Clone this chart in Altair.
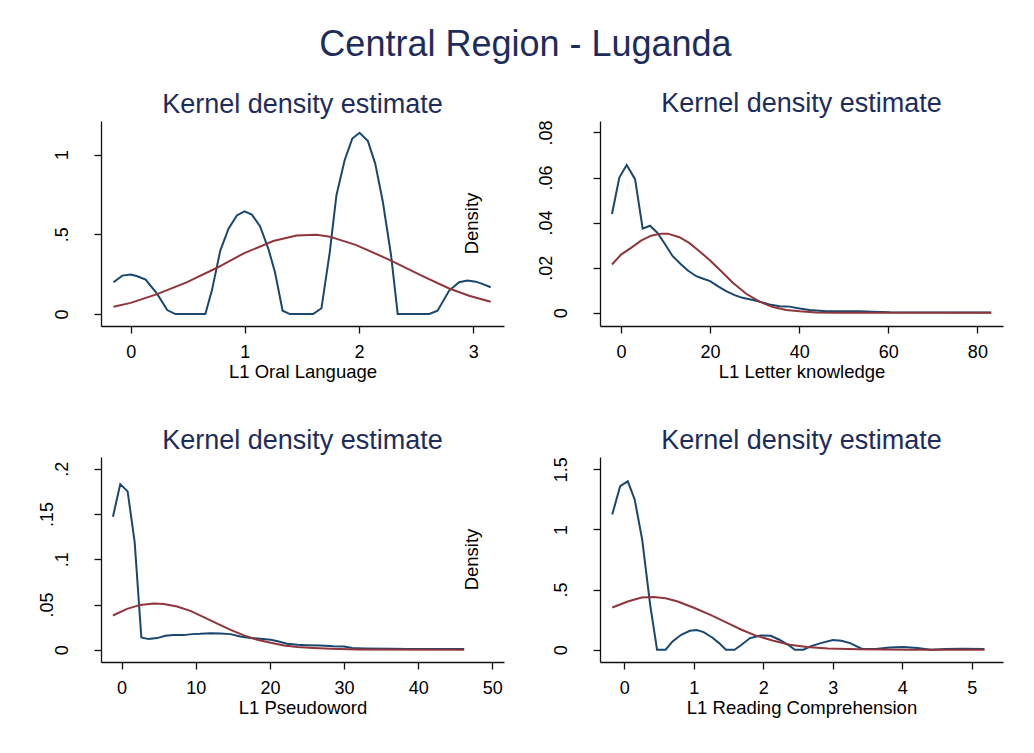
import altair as alt
import pandas as pd

TITLE_COLOR = "#1e2c5c"
BLUE = "#1a476f"
RED = "#90353b"
AXIS_COLOR = "#111111"
FONT = "Liberation Sans"

# ---------------- data ----------------
# L1 Oral Language
tl_blue_x = [-0.151, -0.073, 0.0, 0.058, 0.131, 0.232, 0.320, 0.392, 0.654, 0.712, 0.785, 0.857, 0.930,
             0.997, 1.061, 1.133, 1.206, 1.264, 1.331, 1.395, 1.598, 1.671, 1.744, 1.802, 1.874, 1.941,
             2.005, 2.078, 2.142, 2.209, 2.281, 2.339, 2.616, 2.688, 2.790, 2.877, 2.950, 3.023, 3.080, 3.153]
tl_blue_y = [0.199, 0.241, 0.247, 0.237, 0.216, 0.126, 0.025, 0.0, 0.0, 0.150, 0.398, 0.535, 0.618,
             0.644, 0.623, 0.551, 0.409, 0.262, 0.021, 0.0, 0.0, 0.036, 0.388, 0.744, 0.964, 1.100,
             1.136, 1.084, 0.943, 0.702, 0.367, 0.0, 0.0, 0.021, 0.147, 0.199, 0.210, 0.203, 0.189, 0.168]
tl_red_x = [-0.151, 0.0, 0.232, 0.494, 0.756, 0.990, 1.249, 1.453, 1.628, 1.744, 1.976, 2.267, 2.557,
            2.790, 2.964, 3.153]
tl_red_y = [0.046, 0.070, 0.125, 0.200, 0.290, 0.380, 0.458, 0.492, 0.497, 0.485, 0.432, 0.340, 0.238,
            0.160, 0.115, 0.077]

# L1 Letter knowledge
tr_blue_x = [-2.03, -0.38, 1.27, 3.15, 4.86, 6.5, 8.2, 9.96, 11.6, 13.5, 15.0, 16.9, 18.3, 20.0, 21.7,
             23.6, 25.5, 27.3, 29.6, 31.5, 33.3, 35.6, 37.8, 40.1, 42.3, 46.1, 53.6, 56.5, 60.3, 83.1]
tr_blue_y = [0.0438, 0.0600, 0.0656, 0.0593, 0.0373, 0.0386, 0.0354, 0.0302, 0.0251, 0.0214, 0.0187,
             0.0162, 0.0152, 0.0140, 0.0118, 0.0096, 0.0078, 0.0066, 0.0056, 0.0047, 0.0037, 0.0029,
             0.0027, 0.0019, 0.0012, 0.0007, 0.0006, 0.0004, 0.0002, 0.0001]
tr_red_x = [-2.03, 0.0, 2.25, 4.49, 6.74, 8.99, 10.5, 13.1, 15.3, 17.6, 20.0, 22.5, 25.1, 28.1, 31.1,
            34.1, 37.1, 40.1, 43.8, 48.3, 83.1]
tr_red_y = [0.0214, 0.0258, 0.0288, 0.0320, 0.0342, 0.0351, 0.0351, 0.0335, 0.0310, 0.0273, 0.0232,
            0.0184, 0.0133, 0.0084, 0.0049, 0.0025, 0.0012, 0.0006, 0.0001, 0.0, 0.0]

# L1 Pseudoword
bl_blue_x = [-1.17, -0.18, 0.81, 1.76, 2.66, 3.65, 4.78, 5.9, 7.02, 8.37, 9.5, 10.6, 12.0, 13.3, 14.7,
             16.0, 17.4, 18.7, 20.1, 21.2, 22.3, 23.7, 25.0, 26.8, 28.6, 30.0, 31.1, 32.7, 36.3, 38.5,
             43.0, 46.2]
bl_blue_y = [0.147, 0.183, 0.175, 0.119, 0.0137, 0.0118, 0.0129, 0.0154, 0.0162, 0.0162, 0.0173, 0.0176,
             0.0184, 0.0180, 0.0173, 0.0147, 0.0129, 0.0121, 0.0110, 0.0092, 0.0066, 0.0055, 0.0051,
             0.0048, 0.0040, 0.0037, 0.0019, 0.0015, 0.0011, 0.0008, 0.0010, 0.0008]
bl_red_x = [-1.17, 0.73, 2.52, 4.32, 5.67, 7.48, 9.27, 11.07, 12.9, 14.7, 16.5, 18.3, 20.1, 21.9, 23.7,
            25.9, 28.2, 31.8, 46.2]
bl_red_y = [0.0379, 0.0452, 0.0496, 0.0511, 0.0507, 0.0478, 0.0430, 0.0360, 0.0290, 0.0220, 0.0159,
            0.0110, 0.0077, 0.0048, 0.0030, 0.0019, 0.0011, 0.0004, 0.0]

# L1 Reading Comprehension
br_blue_x = [-0.174, -0.060, 0.050, 0.149, 0.258, 0.372, 0.471, 0.595, 0.694, 0.818, 0.942, 1.042, 1.141,
             1.265, 1.364, 1.463, 1.587, 1.687, 1.810, 1.960, 2.108, 2.232, 2.356, 2.455, 2.579, 2.679,
             2.827, 3.001, 3.125, 3.249, 3.423, 3.621, 3.819, 4.018, 4.216, 4.415, 4.613, 4.861, 5.183]
br_blue_y = [1.124, 1.359, 1.400, 1.249, 0.912, 0.373, 0.0, 0.0, 0.069, 0.124, 0.157, 0.163, 0.146,
             0.102, 0.055, 0.0, 0.0, 0.041, 0.097, 0.119, 0.116, 0.083, 0.041, 0.0, 0.0, 0.028,
             0.055, 0.080, 0.075, 0.055, 0.006, 0.006, 0.019, 0.022, 0.014, 0.0, 0.006, 0.008, 0.006]
br_red_x = [-0.174, 0.050, 0.248, 0.422, 0.595, 0.769, 0.992, 1.240, 1.488, 1.687, 1.885, 2.133, 2.381,
            2.629, 2.927, 3.373, 4.117, 5.183]
br_red_y = [0.351, 0.401, 0.434, 0.439, 0.428, 0.401, 0.351, 0.290, 0.221, 0.166, 0.119, 0.077, 0.041,
            0.022, 0.011, 0.003, 0.0, 0.0]

# axes
tl_xticks = [0, 1, 2, 3]
tl_yticks = [0, 0.5, 1]
tl_ylabels = ["0", ".5", "1"]
tr_xticks = [0, 20, 40, 60, 80]
tr_yticks = [0, 0.02, 0.04, 0.06, 0.08]
tr_ylabels = ["0", ".02", ".04", ".06", ".08"]
bl_xticks = [0, 10, 20, 30, 40, 50]
bl_yticks = [0, 0.05, 0.1, 0.15, 0.2]
bl_ylabels = ["0", ".05", ".1", ".15", ".2"]
br_xticks = [0, 1, 2, 3, 4, 5]
br_yticks = [0, 0.5, 1, 1.5]
br_ylabels = ["0", ".5", "1", "1.5"]

x_titles = ["L1 Oral Language", "L1 Letter knowledge", "L1 Pseudoword", "L1 Reading Comprehension"]
panel_title = "Kernel density estimate"
main_title = "Central Region - Luganda"
y_title = "Density"

W, H = 403, 205
PAD_LINE = "\u00a0"  # blank (no-break space) line used to step rotated labels toward the axis


def label_slot(l):
    if len(l) == 1:
        return 2
    if len(l) == 2 or not l.startswith("."):
        return 1
    return 0


def ylabel_expr(vals, labels):
    expr = "''"
    for v, l in reversed(list(zip(vals, labels))):
        slot = label_slot(l)
        if slot > 0:
            lines = ["'" + PAD_LINE + "'"] * slot + ["'" + l + "'"]
            lab = "[" + ", ".join(lines) + "]"
        else:
            lab = "'" + l + "'"
        expr = f"datum.value == {v} ? {lab} : ({expr})"
    return expr


def panel(bx, by, rx, ry, xdom, ydom, xticks, yticks, ylabels, xtitle, show_density):
    blue = pd.DataFrame({"x": bx, "y": by})
    red = pd.DataFrame({"x": rx, "y": ry})
    xenc = alt.X("x:Q", scale=alt.Scale(domain=xdom, nice=False, zero=False),
                 axis=alt.Axis(values=xticks, title=xtitle, format="d", labelFlush=False,
                               labelOverlap=False))
    yenc = alt.Y("y:Q", scale=alt.Scale(domain=ydom, nice=False, zero=False),
                 axis=alt.Axis(values=yticks, title=None, labelAngle=270, labelAlign="center",
                               labelBaseline="bottom", labelPadding=38, labelLineHeight=15,
                               labelExpr=ylabel_expr(yticks, ylabels), labelFlush=False,
                               labelOverlap=False))
    lb = alt.Chart(blue).mark_line(color=BLUE, strokeWidth=2).encode(x=xenc, y=yenc)
    lr = alt.Chart(red).mark_line(color=RED, strokeWidth=2).encode(x=xenc, y=yenc)
    layers = [lb, lr]
    if show_density:
        dens = alt.Chart(pd.DataFrame({"t": [y_title]})).mark_text(
            angle=270, fontSize=18.5, font=FONT, color="#000000", align="center", baseline="middle"
        ).encode(x=alt.value(-128), y=alt.value(H / 2), text="t:N")
        layers.append(dens)
    return alt.layer(*layers).properties(
        width=W, height=H,
        title=alt.TitleParams(panel_title, fontSize=27, font=FONT, fontWeight="normal",
                              color=TITLE_COLOR, anchor="middle", offset=2),
    )


tl = panel(tl_blue_x, tl_blue_y, tl_red_x, tl_red_y, [-0.26, 3.27], [-0.075, 1.21],
           tl_xticks, tl_yticks, tl_ylabels, x_titles[0], False)
tr = panel(tr_blue_x, tr_blue_y, tr_red_x, tr_red_y, [-4.72, 85.75], [-0.0059, 0.0851],
           tr_xticks, tr_yticks, tr_ylabels, x_titles[1], True)
bl = panel(bl_blue_x, bl_blue_y, bl_red_x, bl_red_y, [-2.78, 51.57], [-0.0135, 0.213],
           bl_xticks, bl_yticks, bl_ylabels, x_titles[2], False)
br = panel(br_blue_x, br_blue_y, br_red_x, br_red_y, [-0.35, 5.45], [-0.102, 1.602],
           br_xticks, br_yticks, br_ylabels, x_titles[3], True)

chart = alt.concat(tl, tr, bl, br, columns=2, spacing={"row": 131, "column": 96},
                   bounds="flush").properties(
    title=alt.TitleParams(main_title, fontSize=36, font=FONT, fontWeight="normal",
                          color=TITLE_COLOR, anchor="middle", offset=25, dx=5),
    padding={"left": 37, "top": 27, "right": 20, "bottom": 20},
    background="#ffffff",
).configure_view(stroke="transparent").configure_axis(
    grid=False, domainColor=AXIS_COLOR, domainWidth=1.3, tickColor=AXIS_COLOR, tickWidth=1.3,
    tickSize=7, labelFont=FONT, labelFontSize=18, labelColor="#000000", titleFont=FONT,
    titleFontSize=18.5, titleFontWeight="normal", titleColor="#000000", titlePadding=1,
).configure_axisX(labelPadding=10)

chart.save("out.html", embed_options={"renderer": "svg", "actions": False})
